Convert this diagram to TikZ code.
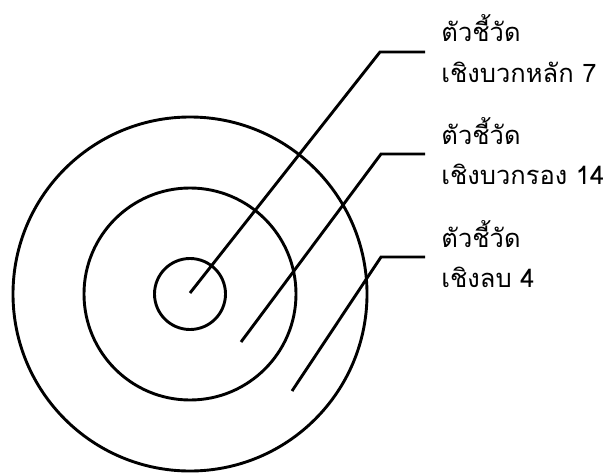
\documentclass[tikz,border=0pt]{standalone}
\usepackage{fontspec}
\newfontfamily\thaifont[Script=Thai]{Loma}

\begin{document}
\begin{tikzpicture}[x=1pt,y=-1pt,line width=2.9pt,
    every node/.style={font=\thaifont\fontsize{25.5}{30}\selectfont,anchor=base west,inner sep=0pt}]
      \useasboundingbox (0,0) rectangle (609,473);
      \coordinate (ctr) at (190,294);
      \draw (ctr) circle[radius=35.5pt];
      \draw (ctr) circle[radius=106pt];
      \draw (ctr) circle[radius=177pt];
      \node (main) at (440,42) {ตัวชี้วัด};
      \node (mainval) at (440,83) {เชิงบวกหลัก 7};
      \node (sub) at (440,144) {ตัวชี้วัด};
      \node (subval) at (440,184) {เชิงบวกรอง 14};
      \node (neg) at (440,247) {ตัวชี้วัด};
      \node (negval) at (440,287) {เชิงลบ 4};
      \coordinate (pmain) at (190,293);
      \coordinate (psub) at (241,342);
      \coordinate (pneg) at (292,391);
      \draw (pmain) -- ([shift={(-60,10)}]main.base west) -- ([shift={(-15,10)}]main.base west);
      \draw (psub) -- ([shift={(-59,10)}]sub.base west) -- ([shift={(-15,10)}]sub.base west);
      \draw (pneg) -- ([shift={(-59,10)}]neg.base west) -- ([shift={(-15,10)}]neg.base west);
    \end{tikzpicture}
\end{document}
